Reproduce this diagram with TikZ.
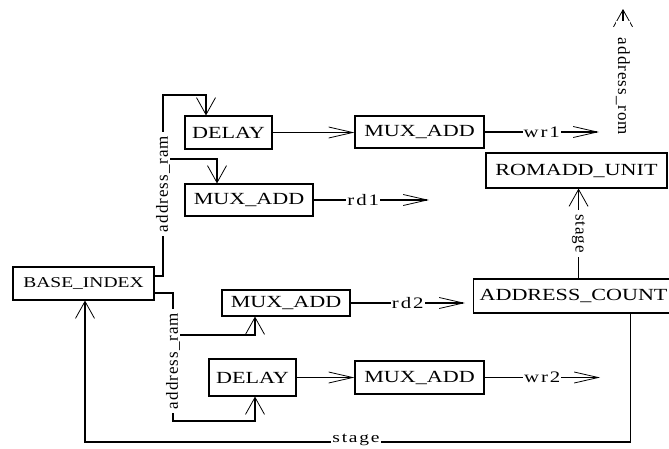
\documentclass[tikz,border=0pt]{standalone}
\usepackage{fontspec}
\setmainfont{Liberation Serif}
\newfontfamily\boxfont[FakeStretch=1.3]{Liberation Serif}
\newfontfamily\labfont[FakeStretch=1.3,LetterSpace=12]{Liberation Serif}
\newfontfamily\vlabfont[LetterSpace=6]{Liberation Serif}
\usetikzlibrary{arrows.meta}

\begin{document}
\begin{tikzpicture}[
    x=1pt, y=-1pt,
    line width=1.1pt,
    box/.style={draw, minimum height=33pt, inner xsep=5pt, inner ysep=2pt, font=\boxfont\fontsize{17}{20}\selectfont},
    lab/.style={fill=white, inner xsep=1pt, inner ysep=0pt, font=\labfont\fontsize{16}{18}\selectfont},
    vlab/.style={fill=white, inner xsep=4pt, inner ysep=0pt, font=\vlabfont\fontsize{17}{19}\selectfont},
    harrow/.style={-{Straight Barb[length=24pt, width=11pt, line width=0.8pt]}},
    varrow/.style={-{Straight Barb[length=17pt, width=19pt, line width=0.8pt]}}
  ]
    \useasboundingbox (0,0) rectangle (669,448);

    \node[box, minimum width=87pt] (delayA) at (228.5,132.5) {DELAY};
    \node[box, minimum width=129pt, minimum height=32pt] (muxW1) at (419.5,132) {MUX\_ADD};
    \node[box, minimum width=128pt, minimum height=32pt] (muxR1) at (249,200) {MUX\_ADD};
    \node[box, minimum width=181pt, minimum height=35pt] (romadd) at (576.5,170.5) {ROMADD\_UNIT};
    \node[box, minimum width=141pt, font=\boxfont\fontsize{15}{18}\selectfont] (base) at (83.5,283.5) {BASE\_INDEX};
    \node[box, minimum width=128pt, minimum height=26pt] (muxR2) at (286,303) {MUX\_ADD};
    \node[box, anchor=west, minimum width=200pt, minimum height=34pt] (count) at (473,296) {ADDRESS\_COUNT};
    \node[box, minimum width=87pt, minimum height=37pt] (delayB) at (252.5,377.5) {DELAY};
    \node[box, minimum width=129pt] (muxW2) at (419.5,377.5) {MUX\_ADD};

    \coordinate (splitA) at (163,159);
    \coordinate (splitB) at (173,335);
    \coordinate (wr1) at (599,132);
    \coordinate (rd1) at (429,200);
    \coordinate (rd2) at (465,303);
    \coordinate (wr2) at (600,377.5);
    \coordinate (romout) at (623,9);
    \coordinate (loopB) at (85,442);

    % address_ram, upper branch
    \draw[varrow] ([yshift=7.5pt]base.east) -| (163,95) -| ([xshift=-22.5pt]delayA.north);
    \draw[varrow] (splitA) -| ([xshift=-32pt]muxR1.north);
    \node[vlab, rotate=90] at (163,184) {address\_ram};

    % address_ram, lower branch
    \draw[varrow] ([yshift=-9.5pt]base.east) -| (173,421) -| ([xshift=2.5pt]delayB.south);
    \draw[varrow] (splitB) -| ([xshift=-31pt]muxR2.south);
    \node[vlab, rotate=90] at (173,361) {address\_ram};

    \draw[harrow] (delayA.east) -- (delayA.east -| muxW1.west);
    \draw[harrow] (delayB.east) -- (delayB.east -| muxW2.west);
    \draw[harrow] (muxW1.east) -- node[lab] {wr1} (wr1);
    \draw[harrow] (muxR1.east) -- node[lab, pos=0.43] {rd1} (rd1);
    \draw[harrow] (muxR2.east) -- node[lab] {rd2} (rd2);
    \draw[harrow] (muxW2.east) -- node[lab] {wr2} (wr2);

    \draw[varrow] ([xshift=5pt]count.north) -- node[vlab, rotate=-90] {stage} ([xshift=5pt]count.north |- romadd.south);
    \draw[varrow] (romadd.north -| romout) -- node[vlab, rotate=-90, inner xsep=17pt, pos=0.46] {address\_rom} (romout);

    % stage back to the base index
    \draw[varrow] ([xshift=57pt]count.south) |- (loopB) -- (base.south -| loopB);
    \node[lab, font=\labfont\fontsize{15}{17}\selectfont] at (356,440) {stage};
\end{tikzpicture}
\end{document}
